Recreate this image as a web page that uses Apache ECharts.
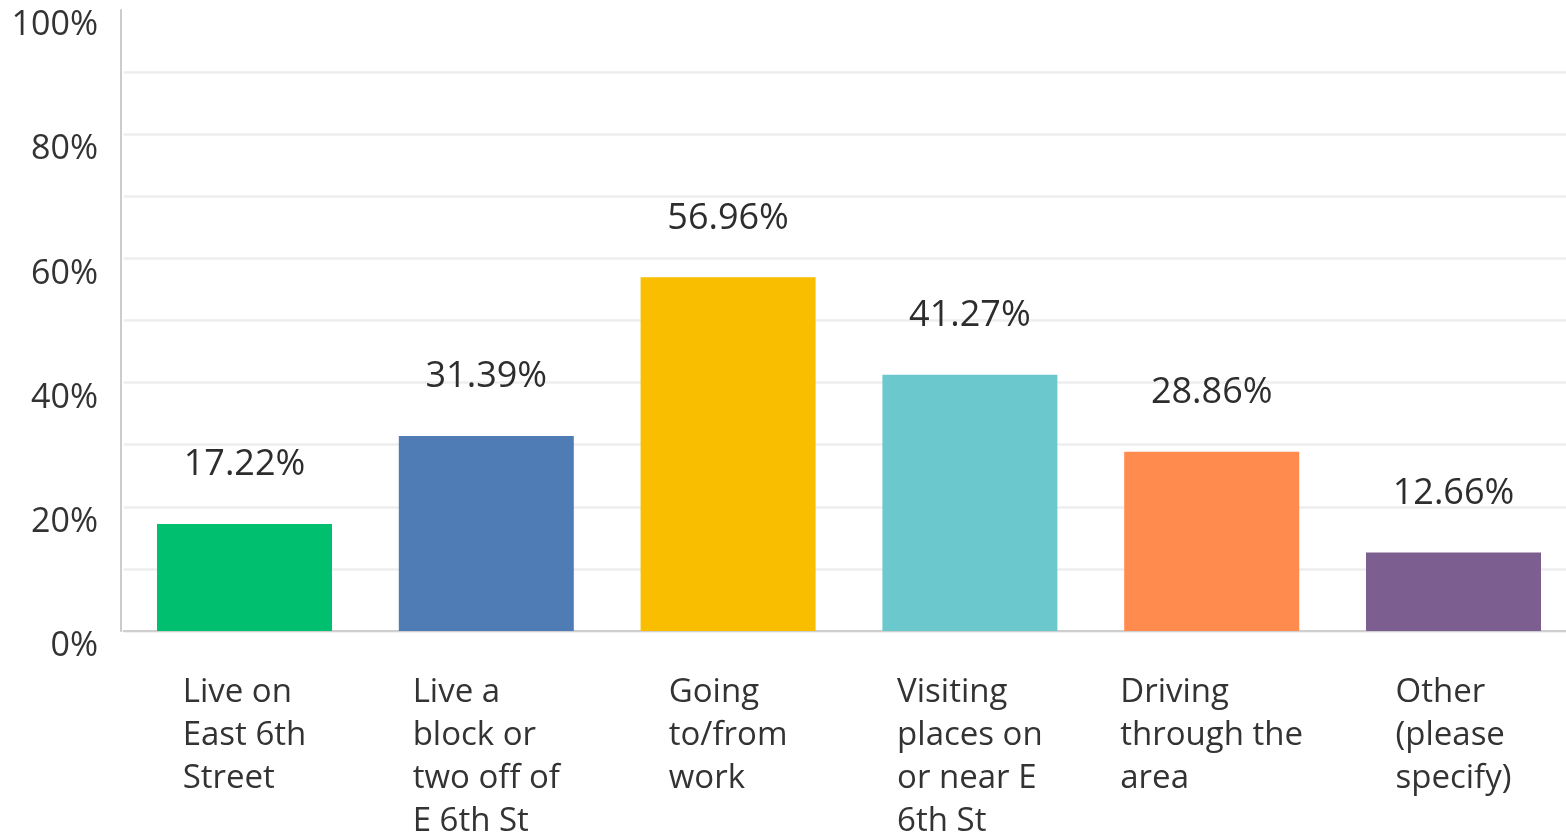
<!DOCTYPE html>
<html>
<head>
<meta charset="utf-8">
<title>East 6th Street</title>
<script src="https://cdn.jsdelivr.net/npm/echarts@6/dist/echarts.min.js"></script>
<style>
  html, body { margin: 0; padding: 0; background: #fff; }
  #main { width: 1566px; height: 834px; }
</style>
</head>
<body>
<div id="main"></div>
<script>
// categories (line breaks as in the original labels)
var categories = [
  'Live on\nEast 6th\nStreet',
  'Live a\nblock or\ntwo off of\nE 6th St',
  'Going\nto/from\nwork',
  'Visiting\nplaces on\nor near E\n6th St',
  'Driving\nthrough the\narea',
  'Other\n(please\nspecify)'
];
// percent of respondents
var values = [17.22, 31.39, 56.96, 41.27, 28.86, 12.66];
var barColors = ['#00bf6f', '#507cb6', '#f9be00', '#6bc8cd', '#ff8b4f', '#7d5e90'];
var yTicks = [0, 20, 40, 60, 80, 100];

var chart = echarts.init(document.getElementById('main'));

var seriesData = [];
for (var i = 0; i < values.length; i++) {
  seriesData.push({ value: values[i], itemStyle: { color: barColors[i] } });
}

var option = {
  animation: false,
  grid: { left: 123.6, right: -8.4, top: 10, bottom: 203, containLabel: false, outerBoundsMode: 'none' },
  xAxis: {
    type: 'category',
    data: categories,
    axisLine: { show: true, lineStyle: { color: '#cfcfcf', width: 2 } },
    axisTick: { show: false },
    axisLabel: {
      interval: 0,
      margin: 40,
      formatter: function (v) {
        // each line left aligned inside a centred block
        return v.split('\n').map(function (s) { return '{a|' + s + '}'; }).join('\n');
      },
      rich: {
        a: { align: 'left', fontFamily: 'Open Sans', fontSize: 33, lineHeight: 43, color: '#333333' }
      }
    }
  },
  yAxis: {
    type: 'value',
    min: 0,
    max: 100,
    interval: 10,
    offset: 2.6,
    axisLine: { show: true, lineStyle: { color: '#cccccc', width: 2 } },
    axisTick: { show: false },
    splitLine: { show: true, showMaxLine: false, lineStyle: { color: '#eeeeee', width: 2.5 } },
    axisLabel: {
      margin: 23,
      verticalAlign: 'top',
      lineHeight: 31,
      fontFamily: 'Open Sans',
      fontSize: 34,
      color: '#333333',
      formatter: function (v) {
        return yTicks.indexOf(v) >= 0 ? v + '%' : '';
      }
    }
  },
  series: [{
    type: 'bar',
    data: seriesData,
    barWidth: 175,
    label: {
      show: true,
      position: 'top',
      distance: 41,
      fontFamily: 'Open Sans',
      fontSize: 36,
      color: '#2d2d2d',
      formatter: function (p) { return p.value.toFixed(2) + '%'; }
    }
  }]
};

chart.setOption(option);
</script>
</body>
</html>
